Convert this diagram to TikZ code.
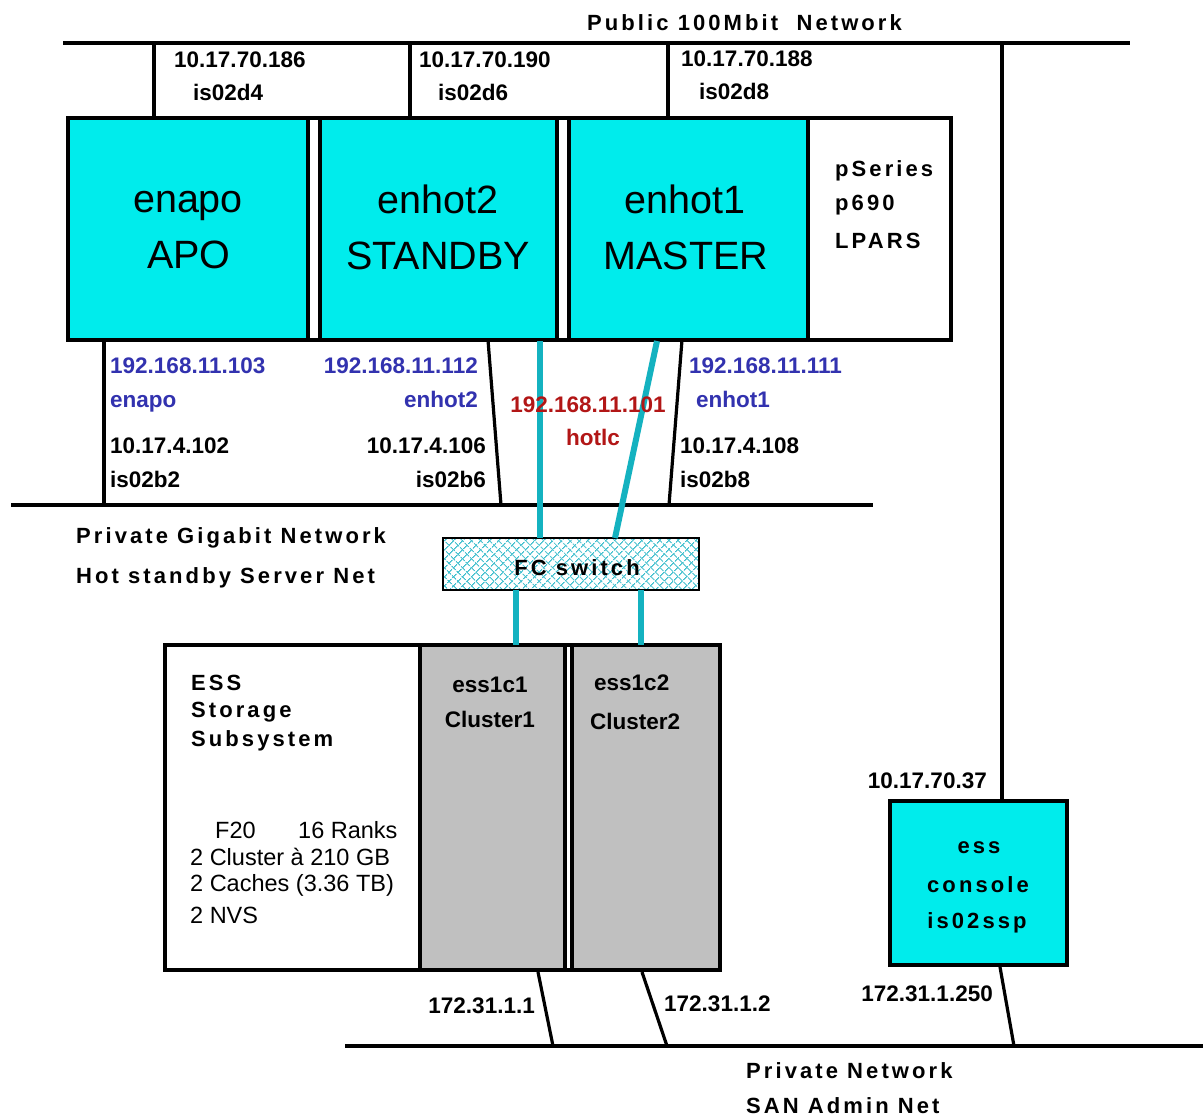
\documentclass[tikz,border=0pt]{standalone}
\usepackage{fontspec}
\setmainfont{Liberation Sans}
\newfontfamily\spacedfont[LetterSpace=14]{Liberation Sans}
\usetikzlibrary{patterns.meta}
\definecolor{boxcyan}{RGB}{0,236,236}
\definecolor{tealline}{RGB}{20,178,192}
\definecolor{lblue}{RGB}{50,50,175}
\definecolor{lred}{RGB}{178,22,22}
\definecolor{cgray}{RGB}{192,192,192}
\definecolor{hatch}{RGB}{60,190,205}
\begin{document}
\begin{tikzpicture}[x=1pt,y=-1pt,
  lab/.style={font=\bfseries\fontsize{22.5}{22.5}\selectfont, inner sep=0pt, anchor=base west},
  labr/.style={lab, anchor=base east},
  labc/.style={lab, anchor=base},
  sp/.style={font=\spacedfont\bfseries\fontsize{22}{22}\selectfont, inner sep=0pt, anchor=base west},
  spc/.style={sp, anchor=base},
  big/.style={font=\fontsize{39.5}{39.5}\selectfont, inner sep=0pt, anchor=base},
  spec/.style={font=\fontsize{23.5}{23.5}\selectfont, inner sep=0pt, anchor=base west},
  box/.style={draw, line width=3.5pt, anchor=north west, inner sep=0pt, outer sep=0pt},
  net/.style={line width=4pt},
  drop/.style={line width=3.2pt},
  fcl/.style={line width=6pt, tealline}]
\useasboundingbox[fill=white] (0,0) rectangle (1203,1118);

% ---- boxes
\node[box, fill=white, minimum width=883pt, minimum height=222pt] (lpar) at (68,118) {};
\node[box, fill=boxcyan, minimum width=240pt, minimum height=222pt] (enapo) at (68,118) {};
\node[box, fill=boxcyan, minimum width=237pt, minimum height=222pt] (enhot2) at (320,118) {};
\node[box, fill=boxcyan, minimum width=239pt, minimum height=222pt] (enhot1) at (569,118) {};
\node[box, fill=white, minimum width=555pt, minimum height=325pt] (ess) at (165,645) {};
\node[box, fill=cgray, minimum width=145pt, minimum height=325pt] (c1) at (420,645) {};
\node[box, fill=cgray, minimum width=148pt, minimum height=325pt] (c2) at (572,645) {};
\node[box, fill=boxcyan, minimum width=177pt, minimum height=164pt] (cons) at (890,801) {};
\node[box, line width=1.5pt, fill=white, minimum width=256pt, minimum height=52pt] (fcw) at (443,538) {};
\fill[pattern={Lines[angle=45,distance=6.4pt,line width=1.3pt]}, pattern color=hatch]
  ([shift={(1,-1)}]fcw.south west) rectangle ([shift={(-1,1)}]fcw.north east);
\fill[pattern={Lines[angle=-45,distance=6.4pt,line width=1.3pt]}, pattern color=hatch]
  ([shift={(1,-1)}]fcw.south west) rectangle ([shift={(-1,1)}]fcw.north east);
\draw[line width=1.5pt] (fcw.south west) rectangle (fcw.north east);

% ---- networks
\coordinate (pubL) at (63,43);
\coordinate (pubR) at (1130,43);
\coordinate (gigL) at (11,505);
\coordinate (gigR) at (873,505);
\coordinate (sanL) at (345,1046);
\coordinate (sanR) at (1203,1046);
\draw[net] (pubL) -- (pubR);
\draw[net] (gigL) -- (gigR);
\draw[net] (sanL) -- (sanR);

% public drops
\coordinate (p1) at (154,43);
\coordinate (p2) at (410,43);
\coordinate (p3) at (668,43);
\coordinate (p4) at (1002,43);
\draw[drop] (p1) -- (p1 |- enapo.north);
\draw[drop] (p2) -- (p2 |- enhot2.north);
\draw[drop] (p3) -- (p3 |- enhot1.north);
\draw[drop] (p4) -- (p4 |- cons.north);

% gigabit drops
\coordinate (g1t) at (104,340);  \coordinate (g1b) at (104,505);
\coordinate (g2t) at (488,340);  \coordinate (g2b) at (501,505);
\coordinate (g3t) at (682,340);  \coordinate (g3b) at (669,505);
\draw[drop] (g1t) -- (g1b);
\draw[drop] (g2t) -- (g2b);
\draw[drop] (g3t) -- (g3b);

% SAN drops
\coordinate (s1t) at (538,972);  \coordinate (s1b) at (553,1046);
\coordinate (s2t) at (642,972);  \coordinate (s2b) at (667,1046);
\coordinate (s3t) at (1000,967); \coordinate (s3b) at (1014,1046);
\draw[drop] (s1t) -- (s1b);
\draw[drop] (s2t) -- (s2b);
\draw[drop] (s3t) -- (s3b);

% fibre channel links
\coordinate (f1t) at (540,341); \coordinate (f1b) at (540,538);
\coordinate (f2t) at (657,341); \coordinate (f2b) at (615,538);
\coordinate (f3t) at (516,590); \coordinate (f3b) at (516,645);
\coordinate (f4t) at (641,590); \coordinate (f4b) at (641,645);
\draw[fcl] (f1t) -- (f1b);
\draw[fcl] (f2t) -- (f2b);
\draw[fcl] (f3t) -- (f3b);
\draw[fcl] (f4t) -- (f4b);

% ---- texts
\node[sp] (tpub) at (587,31) {Public 100Mbit\ \ Network};
\node[lab] (ip186) at (174,68) {10.17.70.186};
\node[lab] (h186) at (193,101) {is02d4};
\node[lab] (ip190) at (419,68) {10.17.70.190};
\node[lab] (h190) at (438,101) {is02d6};
\node[lab] (ip188) at (681,67) {10.17.70.188};
\node[lab] (h188) at (699,100) {is02d8};

\node[big] (t1a) at (188,213) {enapo};
\node[big] (t1b) at (189,269) {APO};
\node[big] (t2a) at (438,214) {enhot2};
\node[big] (t2b) at (438,270) {STANDBY};
\node[big] (t3a) at (685,214) {enhot1};
\node[big] (t3b) at (686,270) {MASTER};

\node[sp] (ps1) at (835,177) {pSeries};
\node[sp] (ps2) at (835,211) {p690};
\node[sp] (ps3) at (835,249) {LPARS};

\node[lab, lblue] (b103) at (110,373) {192.168.11.103};
\node[lab, lblue] (nenapo) at (110,407) {enapo};
\node[lab] (i102) at (110,453) {10.17.4.102};
\node[lab] (h102) at (110,487) {is02b2};
\node[labr, lblue] (b112) at (478,373) {192.168.11.112};
\node[labr, lblue] (nenhot2) at (478,407) {enhot2};
\node[labr] (i106) at (486,453) {10.17.4.106};
\node[labr] (h106) at (486,487) {is02b6};
\node[labc, lred] (b101) at (588,412) {192.168.11.101};
\node[labc, lred] (nhot) at (593,445) {hotlc};
\node[lab, lblue] (b111) at (689,373) {192.168.11.111};
\node[lab, lblue] (nenhot1) at (696,407) {enhot1};
\node[lab] (i108) at (680,453) {10.17.4.108};
\node[lab] (h108) at (680,487) {is02b8};

\node[sp] (pg1) at (76,543) {Private Gigabit Network};
\node[sp] (pg2) at (76,583) {Hot standby Server Net};
\node[spc] (fct) at (577,575) {FC switch};

\node[sp] (e1) at (191,690) {ESS};
\node[sp] (e2) at (191,717) {Storage};
\node[sp] (e3) at (191,746) {Subsystem};
\node[spec] (e4) at (215,838) {F20};
\node[spec] (e5) at (298,838) {16 Ranks};
\node[spec] (e6) at (190,865) {2 Cluster à 210 GB};
\node[spec] (e7) at (190,891) {2 Caches (3.36 TB)};
\node[spec] (e8) at (190,923) {2 NVS};

\node[labc] (c1a) at (490,692) {ess1c1};
\node[labc] (c1b) at (490,727) {Cluster1};
\node[lab] (c2a) at (594,690) {ess1c2};
\node[lab] (c2b) at (590,729) {Cluster2};

\node[spc] (co1) at (979,853) {ess};
\node[spc] (co2) at (978,892) {console};
\node[spc] (co3) at (977,928) {is02ssp};
\node[labr] (i37) at (987,788) {10.17.70.37};
\node[labr] (i250) at (993,1001) {172.31.1.250};
\node[labr] (i11) at (535,1013) {172.31.1.1};
\node[lab] (i12) at (664,1011) {172.31.1.2};

\node[sp] (pn1) at (746,1078) {Private Network};
\node[sp] (pn2) at (746,1113) {SAN Admin Net};
\end{tikzpicture}
\end{document}
